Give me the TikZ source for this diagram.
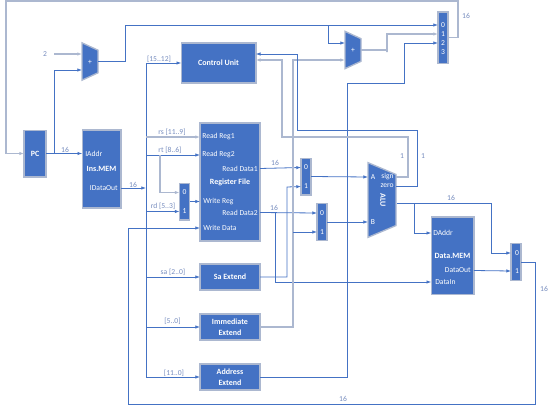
\documentclass[tikz,border=0pt]{standalone}
\usepackage{fontspec}
\setmainfont{Carlito}
\usetikzlibrary{positioning,arrows.meta,calc,shapes.geometric}
\definecolor{unitblue}{RGB}{68,114,196}
\definecolor{edgegrey}{RGB}{172,184,208}
\definecolor{labelblue}{RGB}{118,140,190}
\begin{document}
\begin{tikzpicture}[x=0.75pt,y=-0.75pt,>={Latex[length=3.5pt,width=2.6pt]},
    unit/.style={draw=edgegrey,fill=unitblue,line width=1pt,text=white,align=center,inner sep=0pt,outer sep=0pt,font=\fontsize{6}{8}\selectfont\bfseries},
    mux/.style={unit,minimum width=7.5pt},
    adder/.style={unit,trapezium,inner sep=1pt,shape border rotate=270,trapezium stretches=true},
    port/.style={text=white,inner sep=0pt,font=\fontsize{5.7}{6}\selectfont},
    lab/.style={text=labelblue,inner sep=0pt,font=\fontsize{5.7}{6}\selectfont},
    wire/.style={draw=unitblue,line width=0.6pt},
    pale/.style={draw=edgegrey,line width=0.9pt}]
    \useasboundingbox (0,0) rectangle (554,407);
    % units
    \node[unit,minimum width=16.5pt,minimum height=35pt] (pc) at (35,153.5) {PC};
    \node[unit,minimum width=29pt,minimum height=58.5pt] (ins) at (101.5,169) {Ins.MEM};
    \node[unit,minimum width=56pt,minimum height=30pt] (ctrl) at (218.5,63) {Control Unit};
    \node[unit,minimum width=45pt,minimum height=88.5pt] (rf) at (230,182) {Register File};
    \node[unit,minimum width=45pt,minimum height=19.5pt] (sa) at (230,277) {Sa Extend};
    \node[unit,minimum width=45pt,minimum height=19.5pt,below=18pt of sa] (imm) {Immediate\\Extend};
    \node[unit,minimum width=45pt,minimum height=19.5pt,below=18pt of imm] (addr) {Address\\Extend};
    \node[unit,minimum width=32pt,minimum height=58pt] (dmem) at (452.5,255.5) {Data.MEM};
    \node[mux,minimum height=27.5pt] (regmux) at (184.5,201.5) {};
    \node[mux,minimum height=27.5pt] (muxa) at (306,176.5) {};
    \node[mux,minimum height=27.5pt] (muxb) at (322,222) {};
    \node[mux,minimum height=27.5pt] (muxo) at (516,262) {};
    \node[mux,minimum height=38.5pt] (mux4) at (443,37.5) {};
    \node[adder,minimum width=28pt,minimum height=12pt,trapezium left angle=72,trapezium right angle=72] (add1) at (90,61.5) {};
    \node[adder,minimum width=28pt,minimum height=12pt,trapezium left angle=72,trapezium right angle=72] (add2) at (353,50) {};
    \node[adder,minimum width=56pt,minimum height=21pt,trapezium left angle=77,trapezium right angle=77] (alu) at (382,200) {};
    \node[port] (add1t) at (90,62) {+};
    \node[port] (add2t) at (353,50) {+};
    \node[port,font=\fontsize{6}{8}\selectfont\bfseries,rotate=-90] (alut) at (383,200) {ALU};
    % ports
    \node[port,anchor=west] (iaddr) at (85,153.5) {IAddr};
    \node[port,anchor=east] (idata) at (118,188) {IDataOut};
    \node[port,anchor=west] (rrs) at (202,137) {Read Reg1};
    \node[port,anchor=west] (rrt) at (202,155) {Read Reg2};
    \node[port,anchor=west] (wreg) at (203,202) {Write Reg};
    \node[port,anchor=west] (wdata) at (203,228) {Write Data};
    \node[port,anchor=east] (rd1) at (258,168.5) {Read Data1};
    \node[port,anchor=east] (rd2) at (258,212.5) {Read Data2};
    \node[port] (alua) at (373,177) {A};
    \node[port] (alub) at (373,222) {B};
    \node[port,anchor=east] (sign) at (394,177) {sign};
    \node[port,anchor=east] (zero) at (394,186) {zero};
    \node[port,anchor=west] (daddr) at (433,233) {DAddr};
    \node[port,anchor=east] (dout) at (471,270.5) {DataOut};
    \node[port,anchor=west] (din) at (435,282) {DataIn};
    \node[port] (reg0) at (184.5,192.5) {0};
    \node[port] (reg1) at (184.5,211.5) {1};
    \node[port] (muxa0) at (306,167.5) {0};
    \node[port] (muxa1) at (306,186.5) {1};
    \node[port] (muxb0) at (322,213) {0};
    \node[port] (muxb1) at (322,232) {1};
    \node[port] (muxo0) at (517,253) {0};
    \node[port] (muxo1) at (517,271) {1};
    \node[port] (sel0) at (443,25) {0};
    \node[port] (sel1) at (443,34) {1};
    \node[port] (sel2) at (443,43) {2};
    \node[port] (sel3) at (443,52) {3};
    % wire labels
    \node[lab] (two) at (45,54) {2};
    \node[lab] (l16a) at (65,150) {16};
    \node[lab] (l16b) at (133,185) {16};
    \node[lab] (lctrl) at (159,59) {[15..12]};
    \node[lab] (lrs) at (172,132) {rs [11..9]};
    \node[lab] (lrt) at (170,150) {rt [8..6]};
    \node[lab] (lrd) at (163,206.5) {rd [5..3]};
    \node[lab] (lsa) at (173,272.5) {sa [2..0]};
    \node[lab] (limm) at (172.5,321.5) {[5..0]};
    \node[lab] (laddr) at (174,373) {[11..0]};
    \node[lab] (l16c) at (275,163) {16};
    \node[lab] (l16d) at (274,208) {16};
    \node[lab] (lsign) at (402,156) {1};
    \node[lab] (lzero) at (423,156) {1};
    \node[lab] (l16e) at (451,198) {16};
    \node[lab] (l16f) at (466,16) {16};
    \node[lab] (l16g) at (544,289) {16};
    \node[lab] (l16h) at (343,399) {16};
    % bends
    \coordinate (topr) at (458,1);
    \coordinate (topl) at (6,1);
    \coordinate (twoout) at (54,54);
    \coordinate (pcout) at (54,153.5);
    \coordinate (addin1) at (82,54);
    \coordinate (addin2) at (82,70);
    \coordinate (nexttop) at (125,25);
    \coordinate (nextbr) at (328,25);
    \coordinate (add2in1) at (345,43);
    \coordinate (add2in2) at (345,60);
    \coordinate (bustop) at (146,63);
    \coordinate (busbot) at (146,377);
    \coordinate (rtbr) at (160,155);
    \coordinate (add2mid) at (387,52);
    \coordinate (jmpup) at (404,83);
    \coordinate (immup) at (293,60);
    \coordinate (sarise) at (287,187);
    \coordinate (rd2br) at (275,212.5);
    \coordinate (cu1) at (297,54);
    \coordinate (cu2) at (282,60);
    \coordinate (zero1) at (417,130);
    \coordinate (sign1) at (408,137);
    \coordinate (aluout) at (397,203);
    \coordinate (alubr) at (414,203);
    \coordinate (aluend) at (491,203);
    \coordinate (backr) at (535,404);
    \coordinate (backl) at (128,404);
    \coordinate (addrup) at (347,83);
    % wires
    \draw[pale,->] (mux4.east) -| (topr) -- (topl) |- (pc.west);
    \draw[wire,->] (pc.east) -- (iaddr -| ins.west);
    \draw[wire,->] (pcout) |- (addin2);
    \draw[pale,->] (twoout) -- (addin1);
    \draw[wire,->] (add1.east) -| (nexttop) -- (sel0 -| mux4.west);
    \draw[wire,->] (nextbr) |- (add2in1);
    \draw[pale,->] (add2.east) -| (add2mid) |- (sel1 -| mux4.west);
    \draw[wire,->] (addr.east) -| (addrup) -| (jmpup) |- (sel2 -| mux4.west);
    \draw[wire,->] (idata -| ins.east) -- (idata -| bustop);
    \draw[wire] (bustop) -- (busbot);
    \draw[wire,->] (bustop) -- (ctrl.west);
    \draw[pale,->] (rrs -| bustop) -- (rrs -| rf.west);
    \draw[wire,->] (rrt -| bustop) -- (rrt -| rf.west);
    \draw[pale,->] (rtbr) |- (reg0 -| regmux.west);
    \draw[wire,->] (reg1 -| bustop) -- (reg1 -| regmux.west);
    \draw[wire,->] (sa -| bustop) -- (sa.west);
    \draw[wire,->] (imm -| bustop) -- (imm.west);
    \draw[wire,->] (addr -| bustop) -- (addr.west);
    \draw[wire,->] (regmux.east) -- (regmux.east -| rf.west);
    \draw[wire,->] (rd1 -| rf.east) -- (muxa0 -| muxa.west);
    \draw[wire,->] (rd2 -| rf.east) -- (muxb0 -| muxb.west);
    \draw[wire,->] (rd2br) |- (din -| dmem.west);
    \draw[wire,->] (sa.east) -| (sarise) -- (muxa1 -| muxa.west);
    \draw[pale,->] (imm.east) -| (immup) -- (add2in2);
    \draw[wire,->] (immup |- muxb1) -- (muxb1 -| muxb.west);
    \draw[wire,->] (muxa.east) -- (alua -| alu.west);
    \draw[wire,->] (muxb.east) -- (alub -| alu.west);
    \draw[pale,->] (sign -| alu.east) -| (sign1) -| (cu2) -- (cu2 -| ctrl.east);
    \draw[wire,->] (zero -| alu.east) -| (zero1) -| (cu1) -- (cu1 -| ctrl.east);
    \draw[wire] (aluout) -- (aluend);
    \draw[wire,->] (aluend) |- (muxo0 -| muxo.west);
    \draw[wire,->] (alubr) |- (daddr -| dmem.west);
    \draw[wire,->] (dout -| dmem.east) -- (muxo1 -| muxo.west);
    \draw[wire,->] (muxo.east) -| (backr) -- (backl) |- (wdata -| rf.west);
\end{tikzpicture}
\end{document}
